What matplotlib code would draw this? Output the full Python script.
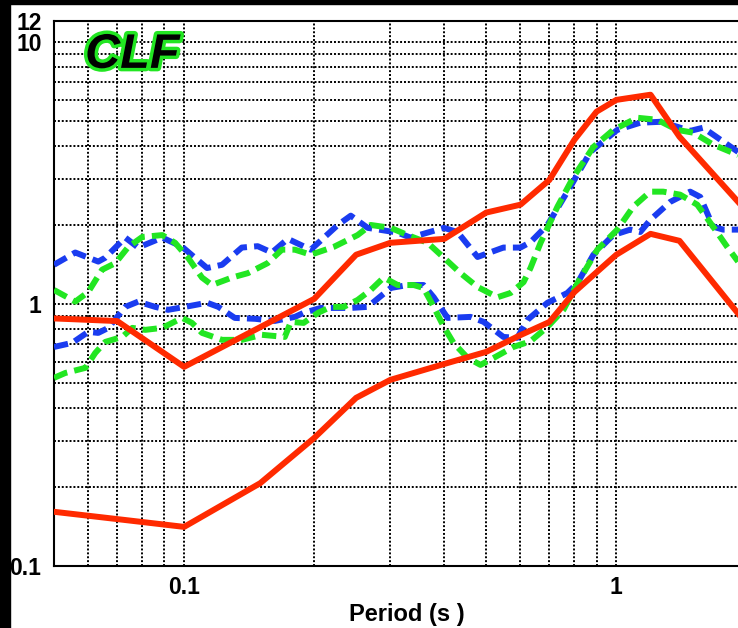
import matplotlib
matplotlib.use("Agg")
import matplotlib.pyplot as plt
import matplotlib.patheffects as pe
from matplotlib.patches import Rectangle
from matplotlib.ticker import FixedLocator, FixedFormatter, LogLocator, NullFormatter

# red solid lines
red_period = [0.05, 0.07, 0.1, 0.15, 0.2, 0.25, 0.3, 0.4, 0.5, 0.6, 0.7, 0.8, 0.9, 1.0, 1.2, 1.4, 2.0]
red_upper = [0.88, 0.86, 0.575, 0.815, 1.045, 1.54, 1.71, 1.77, 2.23, 2.39, 2.97, 4.23, 5.41, 6.0, 6.28, 4.34, 2.26]
red_lower = [0.161, 0.151, 0.141, 0.207, 0.308, 0.438, 0.513, 0.59, 0.656, 0.76, 0.853, 1.11, 1.32, 1.54, 1.85, 1.74, 0.839]

# blue dashed lines
blue_up_period = [0.050, 0.056, 0.0633, 0.0657, 0.0731, 0.0783, 0.089, 0.099, 0.113, 0.1224, 0.136, 0.148,
                  0.1596, 0.1738, 0.1964, 0.2268, 0.243, 0.266, 0.312, 0.334, 0.399, 0.429, 0.4775, 0.548,
                  0.600, 0.633, 0.693, 0.783, 0.871, 1.005, 1.136, 1.264, 1.383, 1.482, 1.588, 1.913]
blue_up = [1.41, 1.57, 1.45, 1.50, 1.79, 1.64, 1.79, 1.65, 1.37, 1.41, 1.64, 1.66,
           1.57, 1.77, 1.61, 2.00, 2.17, 1.95, 1.87, 1.79, 1.95, 1.88, 1.51, 1.64,
           1.64, 1.72, 2.00, 2.80, 3.80, 4.61, 4.91, 4.95, 4.74, 4.57, 4.70, 3.80]

blue_lo_period = [0.050, 0.0551, 0.060, 0.0633, 0.0668, 0.0731, 0.0783, 0.0857, 0.0918, 0.1005, 0.113, 0.120,
                  0.131, 0.146, 0.1622, 0.1804, 0.189, 0.207, 0.243, 0.266, 0.3006, 0.329, 0.358, 0.378,
                  0.407, 0.460, 0.493, 0.548, 0.590, 0.623, 0.693, 0.770, 0.813, 0.885, 0.984, 1.077,
                  1.136, 1.198, 1.333, 1.482, 1.563, 1.675, 1.767, 1.913]
blue_lo = [0.685, 0.710, 0.782, 0.775, 0.810, 0.974, 1.02, 0.974, 0.949, 0.974, 1.01, 0.974,
           0.884, 0.877, 0.861, 0.892, 0.924, 0.965, 0.965, 0.974, 1.15, 1.18, 1.18, 1.06,
           0.884, 0.892, 0.854, 0.748, 0.742, 0.869, 1.01, 1.10, 1.20, 1.54, 1.83, 1.92,
           1.88, 2.09, 2.45, 2.68, 2.56, 1.97, 1.92, 1.92]

# green dashed lines
green_up_period = [0.050, 0.056, 0.060, 0.0646, 0.0693, 0.0743, 0.080, 0.089, 0.0953, 0.1021, 0.110, 0.116,
                   0.129, 0.1405, 0.156, 0.1684, 0.1804, 0.1964, 0.222, 0.252, 0.2703, 0.3006, 0.329, 0.366,
                   0.399, 0.436, 0.4775, 0.531, 0.569, 0.610, 0.633, 0.668, 0.731, 0.796, 0.885, 0.984,
                   1.118, 1.243, 1.383, 1.506, 1.675, 1.913]
green_up = [1.13, 1.02, 1.11, 1.35, 1.43, 1.65, 1.80, 1.83, 1.71, 1.50, 1.26, 1.18,
            1.26, 1.31, 1.43, 1.61, 1.61, 1.54, 1.65, 1.83, 2.00, 1.95, 1.83, 1.71,
            1.50, 1.31, 1.16, 1.06, 1.10, 1.21, 1.37, 1.71, 2.35, 3.05, 3.97, 4.61,
            5.13, 5.04, 4.61, 4.50, 4.05, 3.70]

green_lo_period = [0.050, 0.0531, 0.0591, 0.0623, 0.0657, 0.0719, 0.0759, 0.0813, 0.089, 0.099, 0.1043, 0.110,
                   0.1224, 0.136, 0.1514, 0.171, 0.1766, 0.189, 0.204, 0.2185, 0.234, 0.252, 0.2703, 0.2896,
                   0.312, 0.340, 0.358, 0.378, 0.399, 0.420, 0.453, 0.485, 0.520, 0.578, 0.633, 0.693,
                   0.7545, 0.813, 0.904, 1.005, 1.095, 1.198, 1.284, 1.405, 1.539, 1.675, 1.805, 1.913]
green_lo = [0.522, 0.545, 0.570, 0.650, 0.716, 0.748, 0.810, 0.796, 0.810, 0.884, 0.846, 0.775,
            0.729, 0.729, 0.762, 0.748, 0.854, 0.846, 0.924, 0.974, 0.974, 1.035, 1.13, 1.26,
            1.18, 1.18, 1.15, 0.974, 0.817, 0.710, 0.622, 0.585, 0.622, 0.685, 0.72, 0.817,
            0.949, 1.20, 1.61, 1.92, 2.35, 2.68, 2.68, 2.61, 2.39, 1.97, 1.65, 1.45]

yticks = [0.1, 1, 10, 12]
ytick_labels = ["0.1", "1", "10", "12"]
xticks = [0.1, 1]
xtick_labels = ["0.1", "1"]

RED = "#ff2a00"
BLUE = "#1a3cf0"
GREEN = "#22e622"

plt.rcParams["font.family"] = ["Liberation Sans", "DejaVu Sans"]

fig = plt.figure(figsize=(7.38, 6.28), dpi=100)
ax = fig.add_axes([54 / 738, 1 - 566 / 628, 706 / 738, 545 / 628])

ax.set_xscale("log")
ax.set_yscale("log")
ax.set_xlim(0.05, 2.15)
ax.set_ylim(0.1, 12)

dash = (2.4, 1.2)
lw = 4.3
ax.plot(blue_up_period, blue_up, color=BLUE, lw=lw, dashes=dash, zorder=3)
ax.plot(blue_lo_period, blue_lo, color=BLUE, lw=lw, dashes=dash, zorder=3)
ax.plot(green_up_period, green_up, color=GREEN, lw=lw, dashes=dash, zorder=3)
ax.plot(green_lo_period, green_lo, color=GREEN, lw=lw, dashes=dash, zorder=3)
ax.plot(red_period, red_upper, color=RED, lw=lw, zorder=4)
ax.plot(red_period, red_lower, color=RED, lw=lw, zorder=4)

ax.xaxis.set_major_locator(FixedLocator(xticks))
ax.xaxis.set_major_formatter(FixedFormatter(xtick_labels))
ax.xaxis.set_minor_locator(LogLocator(base=10, subs=range(2, 10)))
ax.xaxis.set_minor_formatter(NullFormatter())
ax.yaxis.set_major_locator(FixedLocator(yticks))
ax.yaxis.set_major_formatter(FixedFormatter(ytick_labels))
ax.yaxis.set_minor_locator(LogLocator(base=10, subs=range(2, 10)))
ax.yaxis.set_minor_formatter(NullFormatter())

ax.grid(True, which="both", color="black", linestyle=(0, (1, 1)), linewidth=1.4, zorder=1)
ax.set_axisbelow(True)
ax.tick_params(which="both", length=0)
ax.tick_params(axis="y", pad=9, labelsize=16.5)
ax.tick_params(axis="x", pad=7, labelsize=16.5)
for lab in ax.get_xticklabels() + ax.get_yticklabels():
    lab.set_fontweight("bold")

for side in ["left", "bottom", "top"]:
    ax.spines[side].set_linewidth(1.5)
ax.spines["right"].set_visible(False)

ax.set_xlabel("Period (s )", fontsize=17, fontweight="bold", labelpad=3)

ax.text(0.044, 0.914, "CLF", transform=ax.transAxes, fontsize=35, fontweight="bold",
        fontstyle="italic", color="black", ha="left", va="baseline", zorder=5,
        path_effects=[pe.withStroke(linewidth=5, foreground=GREEN)])

# black frame strips on the left and top edges
fig.patches.append(Rectangle((0, 0), 10 / 738, 1, transform=fig.transFigure, color="black", zorder=10))
fig.patches.append(Rectangle((0, 1 - 4 / 628), 1, 4 / 628, transform=fig.transFigure, color="black", zorder=10))

fig.savefig("out.png", dpi=100)
